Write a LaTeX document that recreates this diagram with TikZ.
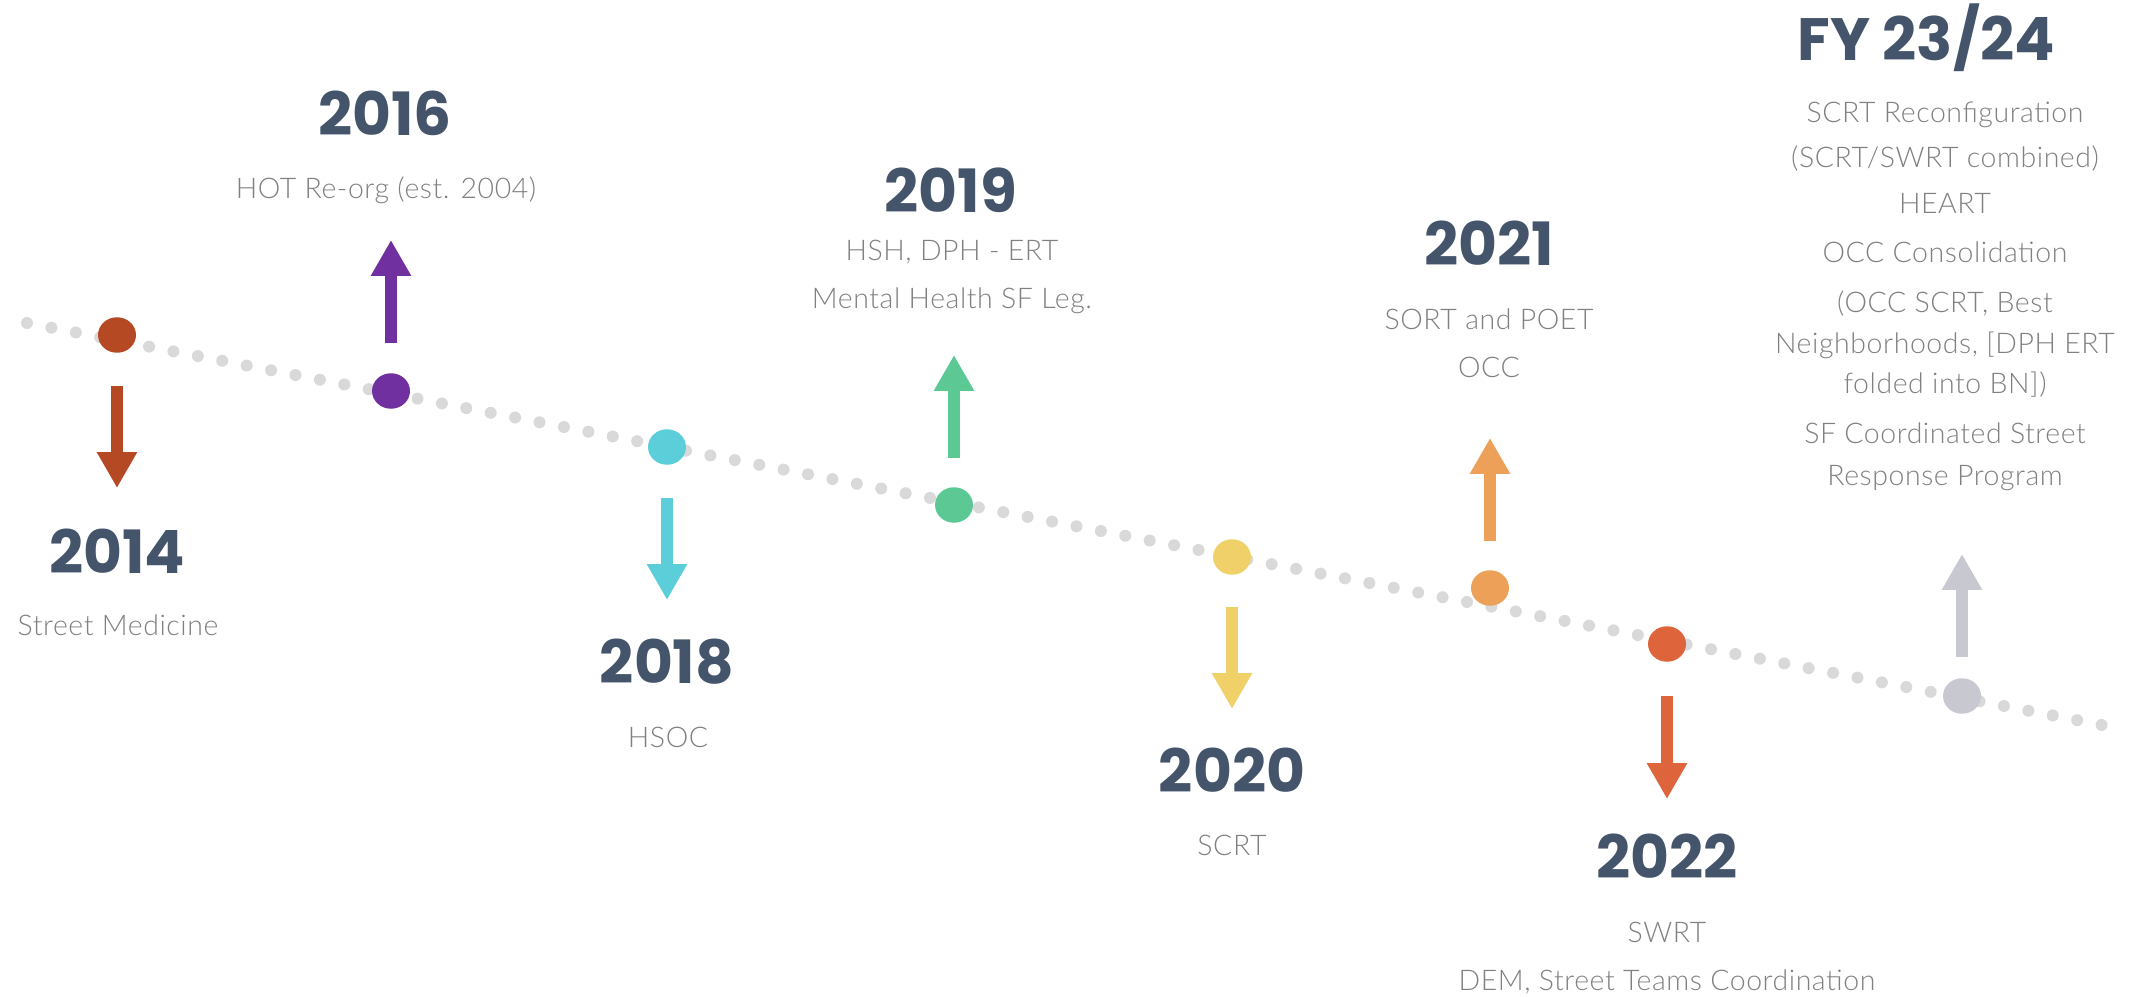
\documentclass[tikz,border=0pt]{standalone}
\usepackage{fontspec}
\setmainfont{Lato}[LetterSpace=2, UprightFont=* Light]
\newfontfamily\yearfont{Poppins}
\usetikzlibrary{arrows.meta,calc,shapes.geometric}

\definecolor{dotgray}{RGB}{217,217,217}
\definecolor{yeartext}{RGB}{68,84,106}
\definecolor{desctext}{RGB}{128,128,128}
\definecolor{col14}{RGB}{181,73,36}
\definecolor{col16}{RGB}{112,48,160}
\definecolor{col18}{RGB}{91,206,218}
\definecolor{col19}{RGB}{92,201,148}
\definecolor{col20}{RGB}{240,208,104}
\definecolor{col21}{RGB}{236,160,88}
\definecolor{col22}{RGB}{222,100,60}
\definecolor{colfy}{RGB}{200,200,208}

\tikzset{
  timeline/.style={dotgray, line width=0.24cm, line cap=round, dash pattern=on 0pt off 0.4973cm},
  eventdot/.style={ellipse, minimum width=0.76cm, minimum height=0.71cm, inner sep=0pt, fill=#1},
  eventarrow/.style={#1, line width=0.24cm, -{Triangle[length=0.72cm, width=0.76cm]}},
  yearlabel/.style={anchor=base, text=yeartext, font=\yearfont\bfseries\fontsize{34}{40}\selectfont},
  desclabel/.style={anchor=base, text=desctext, align=center, font=\fontsize{16.2}{27.3}\selectfont},
}

\begin{document}
\begin{tikzpicture}[x=0.02cm, y=-0.02cm]

    \useasboundingbox (0,0) rectangle (2136,997);

    % Dotted time line (drawn first, dots go on top)
    \coordinate (tlstart) at (27,323);
    \coordinate (tlend) at (2102,725);
    \draw[timeline] (tlstart) -- (tlend);

    % 2014: Street Medicine (arrow down)
    \node[eventdot=col14] (d14) at (117,335) {};
    \draw[eventarrow=col14] ($(d14)+(0,51)$) -- ($(d14)+(0,153)$);
    \node[yearlabel] (y14) at (117,573) {2014};
    \node[desclabel] (t14) at (118,635) {Street Medicine};

    % 2016: HOT re-org (arrow up)
    \node[eventdot=col16] (d16) at (391,391) {};
    \draw[eventarrow=col16] ($(d16)+(0,-48)$) -- ($(d16)+(0,-151)$);
    \node[yearlabel] (y16) at (385,135) {2016};
    \node[desclabel] (t16) at (386,198) {HOT Re-org (est. 2004)};

    % 2018: HSOC (arrow down)
    \node[eventdot=col18] (d18) at (667,447) {};
    \draw[eventarrow=col18] ($(d18)+(0,51)$) -- ($(d18)+(0,153)$);
    \node[yearlabel] (y18) at (667,683) {2018};
    \node[desclabel] (t18) at (668,747) {HSOC};

    % 2019: ERT / legislation (arrow up), base = last line
    \node[eventdot=col19] (d19) at (954,505) {};
    \draw[eventarrow=col19] ($(d19)+(0,-47)$) -- ($(d19)+(0,-150)$);
    \node[yearlabel] (y19) at (951,212) {2019};
    \node[desclabel] (t19) at (952,308) {HSH, DPH - ERT\\Mental Health SF Leg.};

    % 2020: SCRT (arrow down)
    \node[eventdot=col20] (d20) at (1232,557) {};
    \draw[eventarrow=col20] ($(d20)+(0,50)$) -- ($(d20)+(0,152)$);
    \node[yearlabel] (y20) at (1232,792) {2020};
    \node[desclabel] (t20) at (1232,855) {SCRT};

    % 2021: SORT, POET, OCC (arrow up)
    \node[eventdot=col21] (d21) at (1490,588) {};
    \draw[eventarrow=col21] ($(d21)+(0,-47)$) -- ($(d21)+(0,-150)$);
    \node[yearlabel] (y21) at (1489,265) {2021};
    \node[desclabel] (t21) at (1489,377) {SORT and POET\\OCC};

    % 2022: SWRT (arrow down)
    \node[eventdot=col22] (d22) at (1667,644) {};
    \draw[eventarrow=col22] ($(d22)+(0,52)$) -- ($(d22)+(0,155)$);
    \node[yearlabel] (y22) at (1667,878) {2022};
    \node[desclabel] (t22) at (1667,990) {SWRT\\DEM, Street Teams Coordination};

    % FY 23/24: planned (grey, arrow up)
    \node[eventdot=colfy] (dfy) at (1962,696) {};
    \draw[eventarrow=colfy] ($(dfy)+(0,-39)$) -- ($(dfy)+(0,-142)$);
    \node[yearlabel] (yfy) at (1926,61) {FY 23/24};
    \node[desclabel, font=\fontsize{16.2}{23.3}\selectfont] (tfy) at (1945,485)
        {SCRT Reconfiguration\\[2.3pt](SCRT/SWRT combined)\\[2.8pt]HEART\\[4.6pt]OCC Consolidation\\[5.1pt]%
         (OCC SCRT, Best\\Neighborhoods, [DPH ERT\\[-0.6pt]folded into BN])\\[5.1pt]%
         SF Coordinated Street\\[0.6pt]Response Program};

\end{tikzpicture}
\end{document}
